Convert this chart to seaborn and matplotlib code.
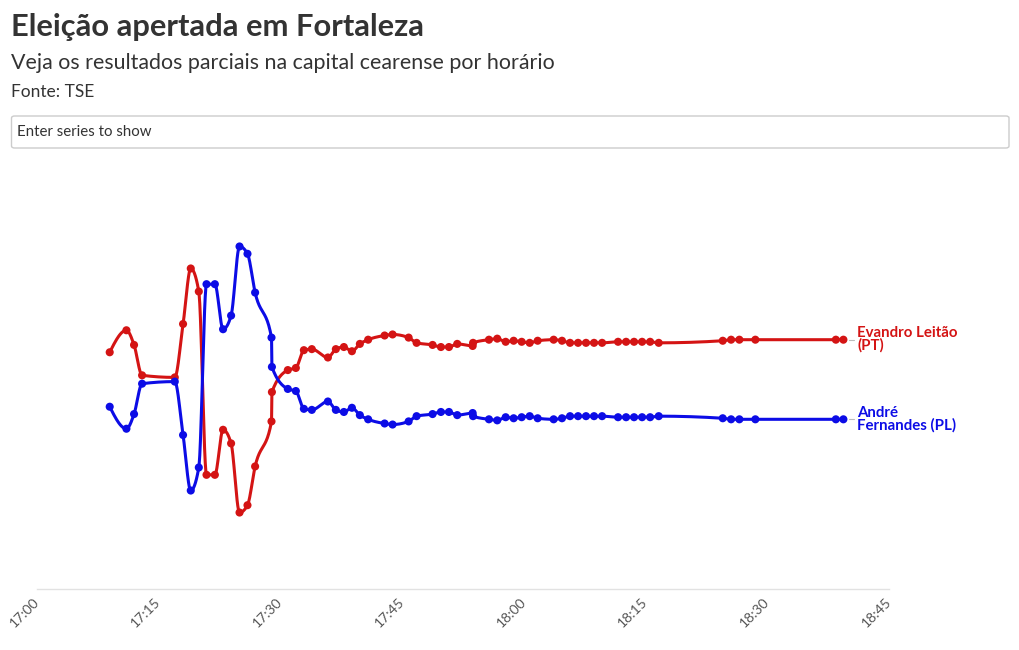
import numpy as np
import pandas as pd
import matplotlib
matplotlib.use("Agg")
import matplotlib.pyplot as plt
import seaborn as sns
from matplotlib.patches import FancyBboxPatch

# ---------------- data ----------------
# minutes after 17:00
minutes = [8.96, 11.02, 11.96, 12.95, 16.98, 18.00, 18.95, 19.94, 20.89, 21.92,
           22.93, 23.92, 24.96, 25.94, 26.88, 28.90, 28.95, 30.91, 31.90, 32.89,
           33.87, 35.85, 36.83, 37.82, 38.81, 39.79, 40.81, 42.84, 43.82, 45.80,
           46.78, 48.75, 49.78, 50.77, 51.79, 53.69, 53.74, 55.70, 56.72, 57.76,
           58.74, 59.73, 60.72, 61.70, 63.67, 64.70, 65.69, 66.68, 67.66, 68.65,
           69.64, 71.61, 72.60, 73.58, 74.57, 75.56, 76.62, 84.51, 85.54, 86.56,
           88.53, 98.45, 99.38]

evandro = [50.26, 50.47, 50.33, 50.04, 50.02, 50.53, 51.06, 50.84, 49.09, 49.09,
           49.52, 49.39, 48.73, 48.80, 49.17, 49.60, 49.88, 50.09, 50.11, 50.28,
           50.29, 50.21, 50.29, 50.31, 50.27, 50.34, 50.38, 50.42, 50.43, 50.40,
           50.35, 50.33, 50.31, 50.31, 50.34, 50.32, 50.35, 50.38, 50.39, 50.36,
           50.37, 50.36, 50.35, 50.37, 50.38, 50.37, 50.35, 50.35, 50.35, 50.35,
           50.35, 50.36, 50.36, 50.36, 50.36, 50.36, 50.35, 50.37, 50.38, 50.38,
           50.38, 50.38, 50.38]

andre = [49.74, 49.53, 49.67, 49.96, 49.98, 49.47, 48.94, 49.16, 50.91, 50.91,
         50.48, 50.61, 51.27, 51.20, 50.83, 50.40, 50.12, 49.91, 49.89, 49.72,
         49.71, 49.79, 49.71, 49.69, 49.73, 49.66, 49.62, 49.58, 49.57, 49.60,
         49.65, 49.67, 49.69, 49.69, 49.66, 49.68, 49.65, 49.62, 49.61, 49.64,
         49.63, 49.64, 49.65, 49.63, 49.62, 49.63, 49.65, 49.65, 49.65, 49.65,
         49.65, 49.64, 49.64, 49.64, 49.64, 49.64, 49.65, 49.63, 49.62, 49.62,
         49.62, 49.62, 49.62]

tick_minutes = [0, 15, 30, 45, 60, 75, 90, 105]
tick_labels = ["17:00", "17:15", "17:30", "17:45", "18:00", "18:15", "18:30", "18:45"]

series_names = ["Evandro Leitão (PT)", "André Fernandes (PL)"]
end_labels = ["Evandro Leitão\n(PT)", "André\nFernandes (PL)"]
colors = ["#d41414", "#0c0ce6"]

title = "Eleição apertada em Fortaleza"
subtitle = "Veja os resultados parciais na capital cearense por horário"
source = "Fonte: TSE"
filter_text = "Enter series to show"


# d3 curveMonotoneX
def monotone_x(x, y, n=24):
    x = np.asarray(x, float)
    y = np.asarray(y, float)
    h = np.diff(x)
    s = np.diff(y) / h
    t = np.zeros_like(y)
    sg = lambda v: -1.0 if v < 0 else 1.0
    for i in range(1, len(x) - 1):
        h0, h1 = h[i - 1], h[i]
        s0, s1 = s[i - 1], s[i]
        p = (s0 * h1 + s1 * h0) / (h0 + h1)
        t[i] = (sg(s0) + sg(s1)) * min(abs(s0), abs(s1), 0.5 * abs(p))
    t[0] = (3 * s[0] - t[1]) / 2
    t[-1] = (3 * s[-1] - t[-2]) / 2
    xs, ys = [], []
    for i in range(len(x) - 1):
        u = np.linspace(0, 1, n, endpoint=False)
        dx = h[i]
        h00 = 2 * u**3 - 3 * u**2 + 1
        h10 = u**3 - 2 * u**2 + u
        h01 = -2 * u**3 + 3 * u**2
        h11 = u**3 - u**2
        xs.append(x[i] + u * dx)
        ys.append(h00 * y[i] + h10 * dx * t[i] + h01 * y[i + 1] + h11 * dx * t[i + 1])
    xs.append([x[-1]])
    ys.append([y[-1]])
    return np.concatenate(xs), np.concatenate(ys)


points = pd.concat([
    pd.DataFrame({"min": minutes, "pct": evandro, "series": series_names[0]}),
    pd.DataFrame({"min": minutes, "pct": andre, "series": series_names[1]}),
], ignore_index=True)

curves = []
for name, vals in zip(series_names, [evandro, andre]):
    cx, cy = monotone_x(minutes, vals)
    curves.append(pd.DataFrame({"min": cx, "pct": cy, "series": name}))
curves = pd.concat(curves, ignore_index=True)

# ---------------- plot ----------------
sns.set_theme(style="white")
plt.rcParams["font.family"] = ["Lato", "DejaVu Sans"]

W, H = 1020, 650
fig = plt.figure(figsize=(W / 100, H / 100), dpi=100)
fig.patch.set_facecolor("white")

ax_left, ax_right, ax_bottom_px, ax_top_px = 37, 889, 589, 170
ax = fig.add_axes([ax_left / W, (H - ax_bottom_px) / H,
                   (ax_right - ax_left) / W, (ax_bottom_px - ax_top_px) / H])

palette = dict(zip(series_names, colors))
sns.lineplot(data=curves, x="min", y="pct", hue="series", palette=palette,
             sort=False, estimator=None, linewidth=2.2, legend=False, ax=ax)
sns.scatterplot(data=points, x="min", y="pct", hue="series", palette=palette,
                s=34, linewidth=0, legend=False, ax=ax, zorder=3)

ax.set_xlim(0, 105)
ax.set_ylim(48, 52)
ax.set_xlabel("")
ax.set_ylabel("")
ax.set_yticks([])
ax.set_xticks(tick_minutes)
ax.set_xticklabels(tick_labels, rotation=45, ha="right", va="center",
                   rotation_mode="anchor", color="#555555", fontsize=10)
ax.tick_params(axis="x", length=5, color="#dddddd", width=1, pad=3)
for side in ["top", "right", "left"]:
    ax.spines[side].set_visible(False)
ax.spines["bottom"].set_color("#e2e2e2")
ax.spines["bottom"].set_linewidth(1)

# end labels with small connectors
for lab, vals, col in zip(end_labels, [evandro, andre], colors):
    xe, ye = minutes[-1], vals[-1]
    ax.plot([xe + 0.75, xe + 1.25], [ye, ye], color="#bbbbbb", lw=0.8,
            clip_on=False)
    ax.annotate(lab, xy=(xe, ye), xycoords="data", xytext=(14, 0),
                textcoords="offset pixels", ha="left", va="center",
                color=col, fontsize=10.8, fontweight="bold", linespacing=0.82,
                annotation_clip=False)

# header texts
fig.text(11 / W, 1 - 27 / H, title, fontsize=22.2, fontweight="bold",
         color="#333333", ha="left", va="center")
fig.text(11 / W, 1 - 63 / H, subtitle, fontsize=15.4, color="#333333",
         ha="left", va="center")
fig.text(11 / W, 1 - 92 / H, source, fontsize=12.5, color="#333333",
         ha="left", va="center")

box = FancyBboxPatch((11.5 / W, 1 - 148 / H), (1009 - 11.5) / W, 32 / H,
                     boxstyle="round,pad=0,rounding_size=0.003",
                     transform=fig.transFigure, facecolor="white",
                     edgecolor="#cccccc", linewidth=1)
fig.patches.append(box)
fig.text(17 / W, 1 - 132 / H, filter_text, fontsize=10.8, color="#333333",
         ha="left", va="center")

fig.savefig("out.png", dpi=100, facecolor="white")
